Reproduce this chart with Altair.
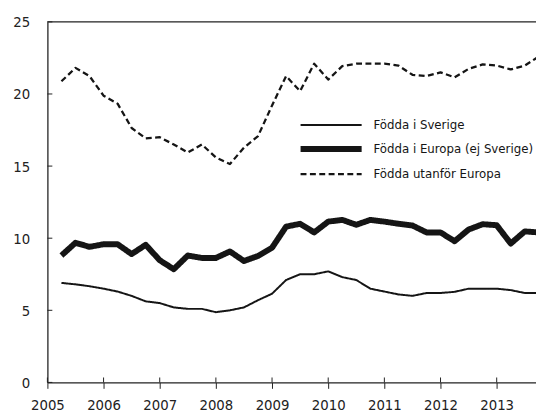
import altair as alt
import pandas as pd

quarters = [2005.25, 2005.5, 2005.75,
            2006.0, 2006.25, 2006.5, 2006.75,
            2007.0, 2007.25, 2007.5, 2007.75,
            2008.0, 2008.25, 2008.5, 2008.75,
            2009.0, 2009.25, 2009.5, 2009.75,
            2010.0, 2010.25, 2010.5, 2010.75,
            2011.0, 2011.25, 2011.5, 2011.75,
            2012.0, 2012.25, 2012.5, 2012.75,
            2013.0, 2013.25, 2013.5, 2013.75]

sverige = [6.9, 6.8, 6.67,
           6.5, 6.3, 6.0, 5.62,
           5.5, 5.2, 5.1, 5.1,
           4.87, 5.0, 5.2, 5.7,
           6.15, 7.1, 7.5, 7.5,
           7.7, 7.3, 7.1, 6.5,
           6.3, 6.1, 6.0, 6.2,
           6.2, 6.28, 6.5, 6.5,
           6.5, 6.4, 6.2, 6.2]

europa = [8.8, 9.68, 9.4,
          9.58, 9.58, 8.9, 9.54,
          8.47, 7.85, 8.8, 8.63,
          8.63, 9.08, 8.42, 8.77,
          9.34, 10.8, 11.0, 10.4,
          11.15, 11.27, 10.93, 11.27,
          11.15, 11.0, 10.88, 10.4,
          10.4, 9.79, 10.6, 10.97,
          10.9, 9.63, 10.47, 10.4]

utanfor = [20.88, 21.81, 21.24,
           19.88, 19.33, 17.64, 16.92,
           17.0, 16.5, 15.94, 16.5,
           15.6, 15.14, 16.28, 17.08,
           19.2, 21.24, 20.2, 22.1,
           21.0, 21.93, 22.1, 22.1,
           22.1, 21.97, 21.33, 21.24,
           21.5, 21.15, 21.74, 22.05,
           21.97, 21.7, 21.97, 22.6]

series_names = ["Födda i Sverige", "Födda i Europa (ej Sverige)", "Födda utanför Europa"]
x_ticks = [2005, 2006, 2007, 2008, 2009, 2010, 2011, 2012, 2013]
y_ticks = [0, 5, 10, 15, 20, 25]

rows = []
for name, vals in zip(series_names, [sverige, europa, utanfor]):
    for q, v in zip(quarters, vals):
        rows.append({"t": q, "v": v, "serie": name})
df = pd.DataFrame(rows)

W, H = 496, 366
FONT = "Liberation Sans Narrow, DejaVu Sans Condensed, sans-serif"
INK = "#151515"
AX = "#222222"

xscale = alt.Scale(domain=[2005, 2013.7], nice=False, zero=False)
yscale = alt.Scale(domain=[0, 25], nice=False)

leg = dict(
    title=None, orient="none", legendX=280, legendY=98,
    symbolType="M-6.2,0H6.2", symbolSize=100, symbolStrokeColor=INK,
    symbolFillColor="transparent",
    labelFont=FONT, labelFontSize=13.3, labelColor=INK, labelOffset=35,
    labelLimit=400, rowPadding=6,
)

lines = alt.Chart(df).mark_line(clip=True, color=INK, strokeJoin="round").encode(
    x=alt.X("t:Q", scale=xscale,
            axis=alt.Axis(values=x_ticks, format="d", title=None, grid=False,
                          tickSize=6, domainColor=AX, tickColor=AX,
                          labelFont=FONT, labelFontSize=15, labelColor=AX,
                          labelPadding=9, labelFlush=False)),
    y=alt.Y("v:Q", scale=yscale,
            axis=alt.Axis(values=y_ticks, title=None, grid=False, tickSize=0,
                          domainColor=AX, labelFont=FONT, labelFontSize=15,
                          labelColor=AX, labelPadding=18)),
    strokeWidth=alt.StrokeWidth("serie:N", sort=series_names,
                                scale=alt.Scale(type="ordinal", domain=series_names, range=[2, 6, 2.3]),
                                legend=alt.Legend(**leg)),
    strokeDash=alt.StrokeDash("serie:N", sort=series_names,
                              scale=alt.Scale(domain=series_names, range=[[1, 0], [1, 0], [6, 3.5]]),
                              legend=alt.Legend(**leg)),
)

top = alt.Chart(pd.DataFrame({"v": [25]})).mark_rule(color=AX, strokeWidth=1.3).encode(
    y=alt.Y("v:Q", scale=yscale),
    x=alt.value(0), x2=alt.value(W),
)

yt = alt.Chart(pd.DataFrame({"v": y_ticks})).mark_rule(color=AX).encode(
    y=alt.Y("v:Q", scale=yscale),
    x=alt.value(0), x2=alt.value(5),
)

xt = alt.Chart(pd.DataFrame({"t": x_ticks})).mark_rule(color=AX).encode(
    x=alt.X("t:Q", scale=xscale),
    y=alt.value(H - 5), y2=alt.value(H),
)

chart = alt.layer(lines, top, yt, xt).properties(
    width=W, height=H,
    autosize=alt.AutoSizeParams(type="none"),
    padding={"left": 40, "top": 11, "right": 0, "bottom": 30},
).configure_view(stroke=None).configure_axis(domainWidth=1.3)

chart.save("out.html", embed_options={"renderer": "svg", "actions": False})
